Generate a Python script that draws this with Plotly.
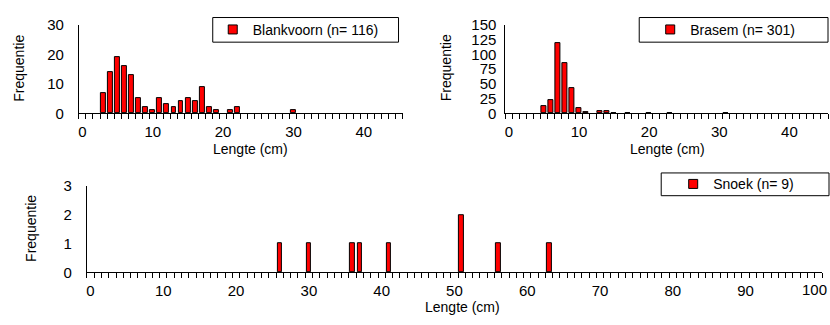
import plotly.graph_objects as go

W, H = 830, 325

# ---- data ----
blank_len = [3, 4, 5, 6, 7, 8, 9, 10, 11, 12, 13, 14, 15, 16, 17, 18, 19, 21, 22, 30]
blank_cnt = [7, 14, 19, 16, 13, 5, 2, 1, 5, 3, 2, 4, 5, 4, 9, 2, 1, 1, 2, 1]

brasem_len = [5, 6, 7, 8, 9, 10, 11, 13, 14, 15, 17, 20, 23, 31]
brasem_cnt = [12, 22, 119, 85, 42, 8, 2, 3, 3, 1, 1, 1, 1, 1]

snoek_len = [26, 30, 36, 37, 41, 51, 56, 63]
snoek_cnt = [1, 1, 1, 1, 1, 2, 1, 1]

names = ["Blankvoorn (n= 116)", "Brasem (n= 301)", "Snoek (n= 9)"]
x_ticks_top = [0, 10, 20, 30, 40]
x_ticks_bottom = [0, 10, 20, 30, 40, 50, 60, 70, 80, 90, 100]

FONT = "Liberation Sans, Arial, sans-serif"
RED = "#FF0000"


def px_x(p):
    return p / W


def px_y(p):
    return 1 - p / H


fig = go.Figure()

bar_style = dict(marker=dict(color=RED, line=dict(color="black", width=1)), showlegend=False,
                 hoverinfo="x+y")

fig.add_trace(go.Bar(x=blank_len, y=blank_cnt, width=0.7, xaxis="x", yaxis="y", **bar_style))
fig.add_trace(go.Bar(x=brasem_len, y=brasem_cnt, width=0.7, xaxis="x2", yaxis="y2", **bar_style))
fig.add_trace(go.Bar(x=snoek_len, y=snoek_cnt, width=0.65, xaxis="x3", yaxis="y3", **bar_style))

# legend entries
for nm, lg, xa, ya in zip(names, ["legend", "legend2", "legend3"], ["x", "x2", "x3"], ["y", "y2", "y3"]):
    fig.add_trace(go.Scatter(x=[None], y=[None], mode="markers", name=nm, legend=lg,
                             xaxis=xa, yaxis=ya,
                             marker=dict(symbol="square", size=9, color=RED,
                                         line=dict(color="black", width=1))))


def xaxis(domain, anchor, rng, tickvals):
    return dict(domain=domain, anchor=anchor, range=rng, tickvals=tickvals,
                ticks="", showline=True, linecolor="black", linewidth=1,
                showgrid=False, zeroline=False, ticklabelstandoff=5,
                tickfont=dict(family=FONT, size=15, color="black"),
                minor=dict(ticks="outside", tick0=-0.5, dtick=1, ticklen=5,
                           tickcolor="black", tickwidth=1, showgrid=False),
                fixedrange=True)


def yaxis(domain, anchor, rng, dtick, standoff):
    return dict(domain=domain, anchor=anchor, range=rng, dtick=dtick,
                ticks="", showline=True, linecolor="black", linewidth=1,
                showgrid=False, zeroline=False, ticklabelstandoff=standoff,
                tickfont=dict(family=FONT, size=15, color="black"), fixedrange=True)


top_y = [px_y(110), px_y(17)]
bot_y = [px_y(278), px_y(187)]

fig.update_layout(
    width=W, height=H,
    margin=dict(l=0, r=0, t=0, b=0),
    paper_bgcolor="white", plot_bgcolor="white",
    bargap=0,
    font=dict(family=FONT, size=14, color="black"),
    xaxis=xaxis([px_x(78), px_x(402)], "y", [-0.5, 45.5], x_ticks_top),
    yaxis=yaxis(top_y, "x", [0, 30], 10, 11),
    xaxis2=xaxis([px_x(505), px_x(828)], "y2", [-0.5, 45.5], x_ticks_top),
    yaxis2=yaxis(top_y, "x2", [0, 150], 25, 5),
    # last label of the bottom axis is drawn as an annotation so it stays inside the page
    xaxis3=xaxis([px_x(86), px_x(822)], "y3", [-0.5, 100.5], x_ticks_bottom[:-1]),
    yaxis3=yaxis(bot_y, "x3", [0, 3], 1, 11),
)

last = x_ticks_bottom[-1]
fig.add_annotation(text=str(last), xref="paper", yref="paper", x=px_x(828), y=px_y(296),
                   showarrow=False, xanchor="right", yanchor="middle", borderpad=0,
                   font=dict(family=FONT, size=15, color="black"))

leg_common = dict(xanchor="left", yanchor="middle", bgcolor="rgba(0,0,0,0)", borderwidth=0,
                  font=dict(family=FONT, size=14, color="black"), itemwidth=30)
fig.update_layout(
    legend=dict(x=px_x(212), y=px_y(22), **leg_common),
    legend2=dict(x=px_x(650), y=px_y(22), **leg_common),
    legend3=dict(x=px_x(673), y=px_y(185), **leg_common),
)

# legend frames
frames = [(212, 9, 398, 35), (639, 9, 828, 35), (661, 173, 829, 197)]
for x0, y0, x1, y1 in frames:
    fig.add_shape(type="rect", xref="paper", yref="paper",
                  x0=px_x(x0), x1=px_x(x1), y0=px_y(y1), y1=px_y(y0),
                  line=dict(color="black", width=1), fillcolor="rgba(0,0,0,0)")

# axis titles
ytitles = [(18, 62), (445, 62), (30, 231)]
for xp, yp in ytitles:
    fig.add_annotation(text="Frequentie", xref="paper", yref="paper", x=px_x(xp), y=px_y(yp),
                       showarrow=False, textangle=-90, xanchor="center", yanchor="middle",
                       font=dict(family=FONT, size=14, color="black"))
xtitles = [(250, 148), (667, 148), (462, 314)]
for xp, yp in xtitles:
    fig.add_annotation(text="Lengte (cm)", xref="paper", yref="paper", x=px_x(xp), y=px_y(yp),
                       showarrow=False, xanchor="center", yanchor="middle", borderpad=0,
                       font=dict(family=FONT, size=14, color="black"))

fig.write_html("out.html")
